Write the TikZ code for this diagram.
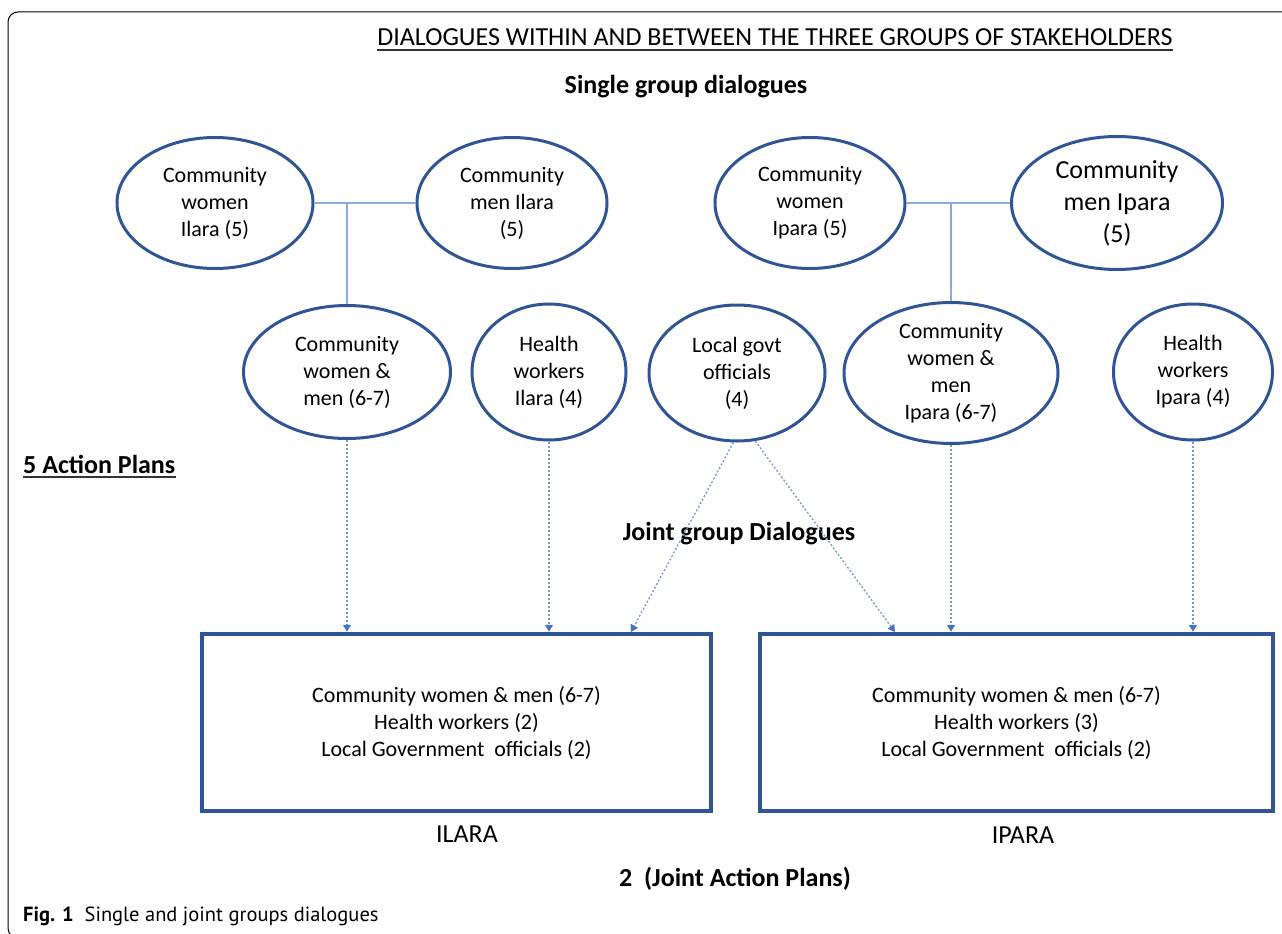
\documentclass[tikz,border=0pt]{standalone}
\usepackage{fontspec}
\setmainfont{Carlito}
\newfontfamily\capfont{PT Sans}
\usetikzlibrary{shapes.geometric,arrows.meta,positioning}
\definecolor{ringblue}{HTML}{2F5597}
\definecolor{linkblue}{HTML}{8EA9DB}
\definecolor{flowblue}{HTML}{7396D6}
\definecolor{tipblue}{HTML}{4472C4}

\tikzset{
		group/.style={
			ellipse, draw=ringblue, line width=3pt, inner sep=0pt, align=center,
			font=\fontsize{22}{27}\selectfont},
		joint/.style={
			rectangle, draw=ringblue, line width=4.5pt, minimum height=177pt,
			align=center, font=\fontsize{22}{27}\selectfont},
		link/.style={draw=linkblue, line width=1.4pt},
		flow/.style={draw=flowblue, line width=1.3pt, dash pattern=on 2pt off 2pt,
			-{Triangle[width=8pt,length=7pt,color=tipblue]}},
		heading/.style={font=\fontsize{26}{31}\selectfont\bfseries, anchor=base},
		uline/.style={line width=1.8pt, black!80},
	}

\begin{document}
\begin{tikzpicture}[x=1pt, y=-1pt]
			\useasboundingbox (0,0) rectangle (1282,934);
			\draw[black, line width=1pt, rounded corners=10pt] (1300,12) -- (8,12) -- (8,938) -- (1300,938);
			\node[anchor=base, inner xsep=0pt, font=\fontsize{26}{31}\selectfont] (title) at (775,46)
				{DIALOGUES WITHIN AND BETWEEN THE THREE GROUPS OF STAKEHOLDERS};
			\draw[uline] ([yshift=-4pt]title.base west) -- ([yshift=-4pt]title.base east);
			\node[heading] (single) at (686,93) {Single group dialogues};
			\node[group, minimum width=196pt, minimum height=131pt] (cwIl) at (215,203) {Community\\women\\Ilara (5)};
			\node[group, minimum width=190pt, minimum height=131pt] (cmIl) at (512,203) {Community\\men Ilara\\(5)};
			\node[group, minimum width=190pt, minimum height=131pt] (cwIp) at (810,203) {Community\\women\\Ipara (5)};
			\node[group, minimum width=211pt, minimum height=133pt,
				font=\fontsize{26}{32}\selectfont] (cmIp) at (1117,203) {Community\\men Ipara\\(5)};
			\node[group, minimum width=207pt, minimum height=133pt] (cwmIl) at (347,372) {Community\\women \&\\men (6-7)};
			\node[group, minimum width=154pt, minimum height=136pt] (hwIl) at (549,372) {Health\\workers\\Ilara (4)};
			\node[group, minimum width=176pt, minimum height=136pt] (lgo) at (737,373) {Local govt\\officials\\(4)};
			\node[group, minimum width=214pt, minimum height=135pt] (cwmIp) at (951,373) {Community\\women \&\\men\\Ipara (6-7)};
			\node[group, minimum width=159pt, minimum height=136pt] (hwIp) at (1193,372) {Health\\workers\\Ipara (4)};
			\node[heading, anchor=base west, inner xsep=0pt] (plans5) at (23,473) {5 Action Plans};
			\draw[uline] ([yshift=-4pt]plans5.base west) -- ([yshift=-4pt]plans5.base east);
			\node[heading] (jointhd) at (739,540) {Joint group Dialogues};
			\node[joint, minimum width=509pt] (jIl) at (456.5,722.5)
				{Community women \& men (6-7)\\Health workers (2)\\Local Government\ \ officials (2)};
			\node[joint, minimum width=513pt] (jIp) at (1016.5,722.5)
				{Community women \& men (6-7)\\Health workers (3)\\Local Government\ \ officials (2)};
			\node[anchor=base, font=\fontsize{26}{31}\selectfont] (ilara) at (467,842) {ILARA};
			\node[anchor=base, font=\fontsize{26}{31}\selectfont] (ipara) at (1023,843) {IPARA};
			\node[heading] (plans2) at (735,886) {2\ \ (Joint Action Plans)};
			\node[anchor=base west, inner sep=0pt, font=\capfont\fontsize{20.5}{24}\selectfont] (cap) at (23,921)
				{\textbf{Fig. 1}\ \ Single and joint groups dialogues};
			\coordinate (inL) at (631,632);
			\coordinate (inR) at (895,632);
			\draw[link] (cwIl) -- (cmIl);
			\draw[link] (cwmIl.north) -- (cwmIl.north |- cwIl.east);
			\draw[link] (cwIp) -- (cmIp);
			\draw[link] (cwmIp.north) -- (cwmIp.north |- cwIp.east);
			\draw[flow] (cwmIl.south) -- (cwmIl.south |- jIl.north);
			\draw[flow] (hwIl.south) -- (hwIl.south |- jIl.north);
			\draw[flow] (lgo.-93) -- (inL);
			\draw[flow] (lgo.-75) -- (inR);
			\draw[flow] (cwmIp.south) -- (cwmIp.south |- jIp.north);
			\draw[flow] (hwIp.south) -- (hwIp.south |- jIp.north);
			\end{tikzpicture}
\end{document}
